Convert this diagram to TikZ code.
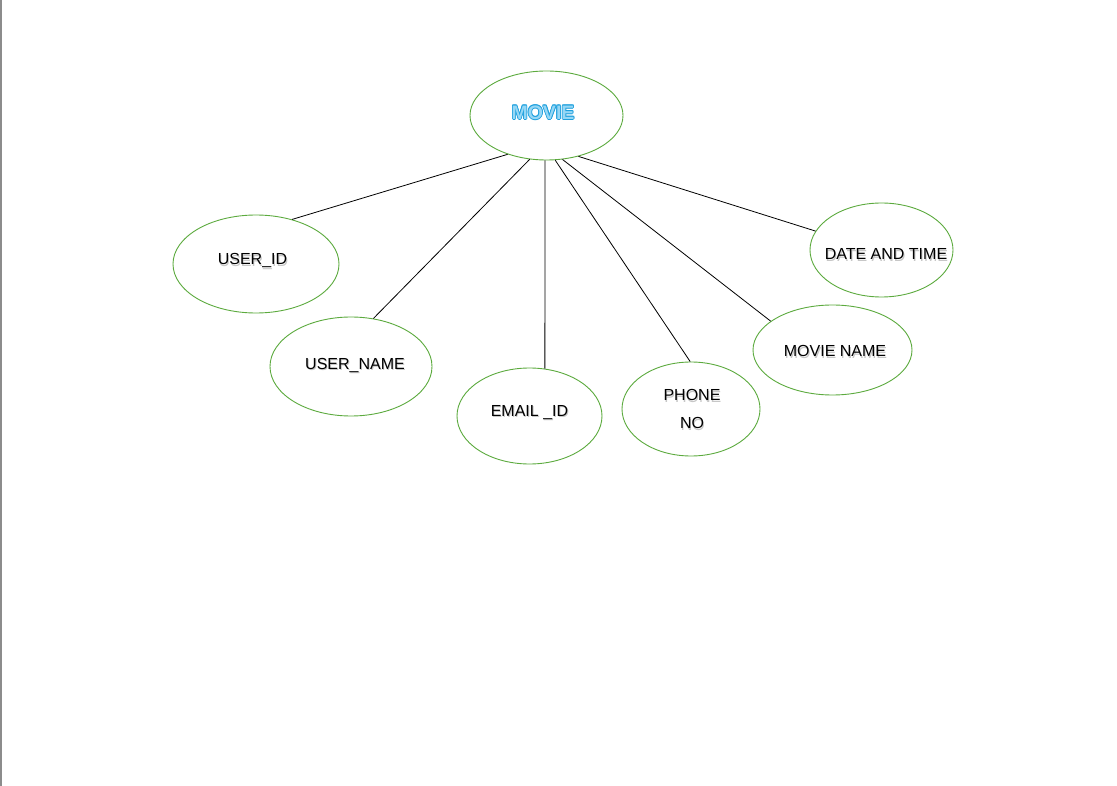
\documentclass[tikz,border=0pt]{standalone}
\usepackage{fontspec}
\setmainfont{Liberation Sans}
\usetikzlibrary{shapes.geometric}
\definecolor{ellgreen}{RGB}{92,170,62}
\definecolor{movieblue}{RGB}{30,160,222}
\definecolor{movielight}{RGB}{150,215,245}
\definecolor{edgegray}{RGB}{140,140,140}
\newcommand\shtxt[1]{\rlap{\hspace{0.9pt}\raisebox{-1.2pt}{\textcolor{black!22}{#1}}}#1}
\begin{document}
\begin{tikzpicture}[x=1pt,y=-1pt,
  attr/.style={ellipse,draw=ellgreen,line width=0.9pt,inner sep=0pt},
  txt/.style={font=\fontsize{16}{28}\selectfont,align=center},
  link/.style={draw=black,line width=0.8pt}]
\useasboundingbox (0,0) rectangle (1117,786);
\fill[white] (0,0) rectangle (1117,786);
\draw[edgegray,line width=1.6pt] (0.8,0) -- (0.8,786);
\node[attr,minimum width=153pt,minimum height=89pt] (movie) at (546.5,115.5) {};
\foreach \dx/\dy in {0.8/0,-0.8/0,0/0.8,0/-0.8,0.6/0.6,-0.6/0.6,0.6/-0.6,-0.6/-0.6}
  \node[text=movieblue,font=\fontsize{19.5}{22}\selectfont\bfseries,inner sep=0pt]
    at ([xshift=\dx pt,yshift=\dy pt]543,112.5) {MOVIE};
\node[text=movielight,font=\fontsize{19.5}{22}\selectfont\bfseries,inner sep=0pt]
  (movietext) at (543,112.5) {MOVIE};
\node[attr,minimum width=166pt,minimum height=98pt,
  label={[txt,xshift=-3.5pt,yshift=2.5pt]center:\shtxt{USER\_ID}}] (userid) at (256,264) {};
\node[attr,minimum width=162pt,minimum height=99pt,
  label={[txt,xshift=4pt,yshift=0.5pt]center:\shtxt{USER\_NAME}}] (username) at (351,366.5) {};
\node[attr,minimum width=145pt,minimum height=96pt,
  label={[txt,yshift=3pt]center:\shtxt{EMAIL \_ID}}] (email) at (529.5,416) {};
\node[attr,minimum width=138pt,minimum height=94pt,
  label={[txt,xshift=1pt,yshift=-1pt]center:\shtxt{PHONE}\\\shtxt{NO}}] (phone) at (691,409) {};
\node[attr,minimum width=159pt,minimum height=90pt,
  label={[txt,xshift=2.5pt,yshift=-2pt]center:\shtxt{MOVIE NAME}}] (moviename) at (832.5,350) {};
\node[attr,minimum width=143pt,minimum height=94pt,
  label={[txt,xshift=4.5pt,yshift=-5pt]center:\shtxt{DATE AND TIME}}] (datetime) at (881.5,250) {};
\draw[link] (movie.225) -- (userid.51);
\draw[link] (movie.249) -- (username.65);
\draw[link] (movie.268) -- (email.72);
\draw[link] (movie.281) -- (phone.91);
\draw[link] (movie.290) -- (moviename.155);
\draw[link] (movie.308) -- (datetime.164);
\end{tikzpicture}
\end{document}
